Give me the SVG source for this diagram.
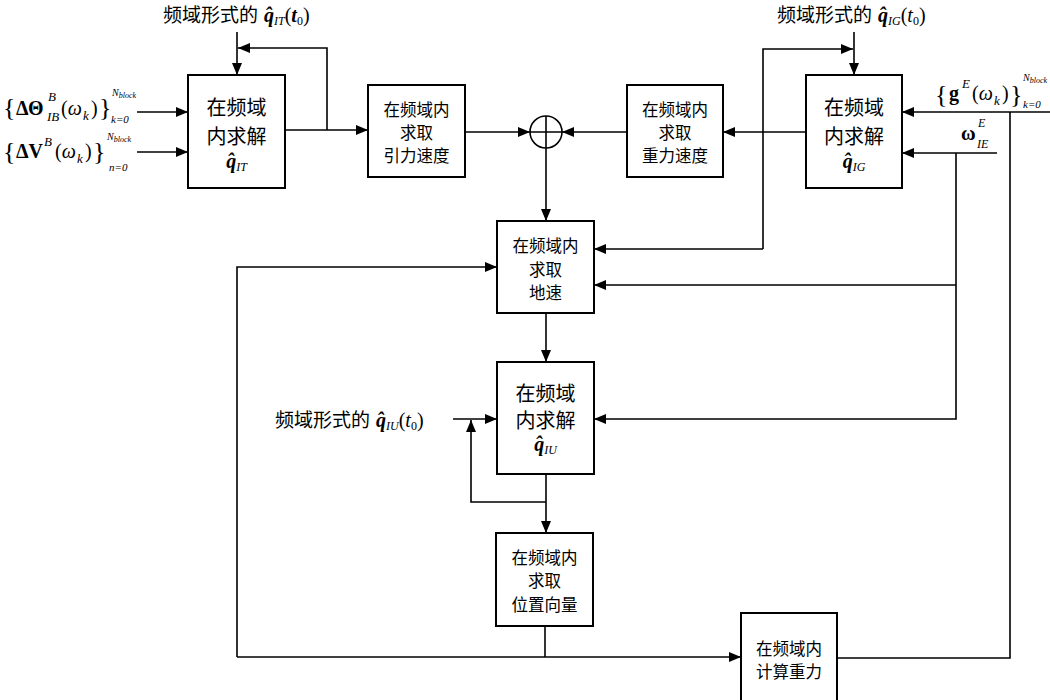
<svg xmlns="http://www.w3.org/2000/svg" width="1050" height="700" viewBox="0 0 1050 700">
<defs>
<marker id="ah" markerUnits="userSpaceOnUse" markerWidth="12" markerHeight="10" refX="12" refY="5" orient="auto"><path d="M0,0 L12,5 L0,10 z" fill="#000"/></marker>
<style>
.box{fill:#fff;stroke:#000;stroke-width:2}
.cjk{font-family:"Noto Sans CJK SC",sans-serif;fill:#000}
.b20{font-size:20px}
.b17{font-size:16.5px}
.lab{font-size:19px}
.m{font-family:"Liberation Serif",serif;fill:#000}
.bi{font-weight:bold;font-style:italic}
.it{font-style:italic}
.bd{font-weight:bold}
</style>
</defs>
<rect width="1050" height="700" fill="#fff"/>

<g id="connectors" fill="none" stroke="#000" stroke-width="1.6">
<path d="M137,112 H188" marker-end="url(#ah)"/>
<path d="M137,152 H188" marker-end="url(#ah)"/>
<path d="M237,32 V75" marker-end="url(#ah)"/>
<path d="M285,130 H368" marker-end="url(#ah)"/>
<path d="M327,130 V48 H238" marker-end="url(#ah)"/>
<path d="M465,132 H530" marker-end="url(#ah)"/>
<path d="M627,132 H562" marker-end="url(#ah)"/>
<path d="M806,132 H723" marker-end="url(#ah)"/>
<path d="M854,32 V75" marker-end="url(#ah)"/>
<path d="M763,249 V49 H853" marker-end="url(#ah)"/>
<path d="M763,249 H594" marker-end="url(#ah)"/>
<path d="M546,148 V221" marker-end="url(#ah)"/>
<path d="M1050,112 H902" marker-end="url(#ah)"/>
<path d="M1010,112 V658 H837"/>
<path d="M997,153 H902" marker-end="url(#ah)"/>
<path d="M956,153 V419 H594" marker-end="url(#ah)"/>
<path d="M956,285 H594" marker-end="url(#ah)"/>
<path d="M546,313 V362" marker-end="url(#ah)"/>
<path d="M453,419 H497" marker-end="url(#ah)"/>
<path d="M546,474 V533" marker-end="url(#ah)"/>
<path d="M546,502 H471 V420" marker-end="url(#ah)"/>
<path d="M545,626 V657"/>
<path d="M237,657 H741" marker-end="url(#ah)"/>
<path d="M237,657 V267 H497" marker-end="url(#ah)"/>
</g>

<g id="node-IT">
<rect class="box" x="188" y="75" width="97" height="113"/>
<text class="cjk b20" x="236.5" y="115" text-anchor="middle">在频域</text>
<text class="cjk b20" x="236.5" y="144" text-anchor="middle">内求解</text>
<text class="m" x="236.5" y="168" text-anchor="middle"><tspan class="bi" font-size="20">q&#x302;</tspan><tspan class="it" font-size="12" dy="3">IT</tspan></text>
</g>

<g id="node-yinli">
<rect class="box" x="368" y="85" width="97" height="92"/>
<text class="cjk b17" x="416.5" y="116" text-anchor="middle">在频域内</text>
<text class="cjk b17" x="416.5" y="139" text-anchor="middle">求取</text>
<text class="cjk b17" x="416.5" y="162" text-anchor="middle">引力速度</text>
</g>

<g id="node-sum" fill="none" stroke="#000" stroke-width="1.6">
<circle cx="546" cy="132" r="16" fill="#fff"/>
<path d="M546,116 V148 M530,132 H562"/>
</g>

<g id="node-zhongli">
<rect class="box" x="627" y="85" width="96" height="92"/>
<text class="cjk b17" x="675" y="116" text-anchor="middle">在频域内</text>
<text class="cjk b17" x="675" y="139" text-anchor="middle">求取</text>
<text class="cjk b17" x="675" y="162" text-anchor="middle">重力速度</text>
</g>

<g id="node-IG">
<rect class="box" x="806" y="75" width="96" height="113"/>
<text class="cjk b20" x="854" y="115" text-anchor="middle">在频域</text>
<text class="cjk b20" x="854" y="144" text-anchor="middle">内求解</text>
<text class="m" x="854" y="168" text-anchor="middle"><tspan class="bi" font-size="20">q&#x302;</tspan><tspan class="it" font-size="12" dy="3">IG</tspan></text>
</g>

<g id="node-disu">
<rect class="box" x="497" y="221" width="97" height="92"/>
<text class="cjk b17" x="545.5" y="252" text-anchor="middle">在频域内</text>
<text class="cjk b17" x="545.5" y="276" text-anchor="middle">求取</text>
<text class="cjk b17" x="545.5" y="299" text-anchor="middle">地速</text>
</g>

<g id="node-IU">
<rect class="box" x="497" y="362" width="97" height="112"/>
<text class="cjk b20" x="545.5" y="401" text-anchor="middle">在频域</text>
<text class="cjk b20" x="545.5" y="428" text-anchor="middle">内求解</text>
<text class="m" x="545.5" y="451" text-anchor="middle"><tspan class="bi" font-size="20">q&#x302;</tspan><tspan class="it" font-size="12" dy="3">IU</tspan></text>
</g>

<g id="node-weizhi">
<rect class="box" x="496" y="533" width="97" height="93"/>
<text class="cjk b17" x="544.5" y="564" text-anchor="middle">在频域内</text>
<text class="cjk b17" x="544.5" y="587" text-anchor="middle">求取</text>
<text class="cjk b17" x="544.5" y="611" text-anchor="middle">位置向量</text>
</g>

<g id="node-jisuan">
<rect class="box" x="741" y="613" width="96" height="95"/>
<text class="cjk b17" x="789" y="655" text-anchor="middle">在频域内</text>
<text class="cjk b17" x="789" y="678" text-anchor="middle">计算重力</text>
</g>

<g id="label-IT0">
<text class="cjk lab" x="163" y="22">频域形式的</text>
<text class="m" x="264" y="22"><tspan class="bi" font-size="20">q&#x302;</tspan><tspan class="it" font-size="12" dy="3">IT</tspan><tspan font-size="20" dy="-3">(</tspan><tspan class="bi" font-size="20">t</tspan><tspan font-size="12" dy="3">0</tspan><tspan font-size="20" dy="-3">)</tspan></text>
</g>

<g id="label-IG0">
<text class="cjk lab" x="777" y="22">频域形式的</text>
<text class="m" x="878" y="22"><tspan class="bi" font-size="20">q&#x302;</tspan><tspan class="it" font-size="12" dy="3">IG</tspan><tspan font-size="20" dy="-3">(</tspan><tspan class="it" font-size="20">t</tspan><tspan font-size="12" dy="3">0</tspan><tspan font-size="20" dy="-3">)</tspan></text>
</g>

<g id="label-IU0">
<text class="cjk lab" x="275" y="427">频域形式的</text>
<text class="m" x="376" y="427"><tspan class="bi" font-size="20">q&#x302;</tspan><tspan class="it" font-size="12" dy="3">IU</tspan><tspan font-size="20" dy="-3">(</tspan><tspan class="it" font-size="20">t</tspan><tspan font-size="12" dy="3">0</tspan><tspan font-size="20" dy="-3">)</tspan></text>
</g>

<g id="label-dtheta">
<text class="m" x="3" y="116" font-size="26">{</text>
<text class="m bd" x="16" y="115" font-size="20">ΔΘ</text>
<text class="m it" x="48" y="101" font-size="13">B</text>
<text class="m it" x="47" y="121" font-size="13">IB</text>
<text class="m" x="61" y="115" font-size="20">(<tspan class="it">ω</tspan></text>
<text class="m it" x="83" y="120" font-size="13">k</text>
<text class="m" x="91" y="115" font-size="20">)</text>
<text class="m" x="99" y="116" font-size="26">}</text>
<text class="m it" x="112" y="96" font-size="10">N<tspan font-size="8" dy="2">block</tspan></text>
<text class="m it" x="111" y="123" font-size="11">k=0</text>
</g>

<g id="label-dv">
<text class="m" x="3" y="160" font-size="26">{</text>
<text class="m bd" x="16" y="158" font-size="20">ΔV</text>
<text class="m it" x="44" y="146" font-size="13">B</text>
<text class="m" x="55" y="158" font-size="20">(<tspan class="it">ω</tspan></text>
<text class="m it" x="77" y="163" font-size="13">k</text>
<text class="m" x="85" y="158" font-size="20">)</text>
<text class="m" x="93" y="160" font-size="26">}</text>
<text class="m it" x="107" y="140" font-size="10">N<tspan font-size="8" dy="2">block</tspan></text>
<text class="m it" x="109" y="171" font-size="11">n=0</text>
</g>

<g id="label-gE">
<text class="m" x="935" y="103" font-size="26">{</text>
<text class="m bd" x="949" y="100" font-size="20">g</text>
<text class="m it" x="962" y="88" font-size="13">E</text>
<text class="m" x="972" y="100" font-size="20">(<tspan class="it">ω</tspan></text>
<text class="m it" x="994" y="105" font-size="13">k</text>
<text class="m" x="1002" y="100" font-size="20">)</text>
<text class="m" x="1010" y="103" font-size="26">}</text>
<text class="m it" x="1023" y="81" font-size="10">N<tspan font-size="8" dy="2">block</tspan></text>
<text class="m it" x="1023" y="108" font-size="11">k=0</text>
</g>

<g id="label-omega">
<text class="m bd" x="961" y="140" font-size="20">ω</text>
<text class="m it" x="978" y="127" font-size="12">E</text>
<text class="m it" x="977" y="148" font-size="12">IE</text>
</g>
</svg>
